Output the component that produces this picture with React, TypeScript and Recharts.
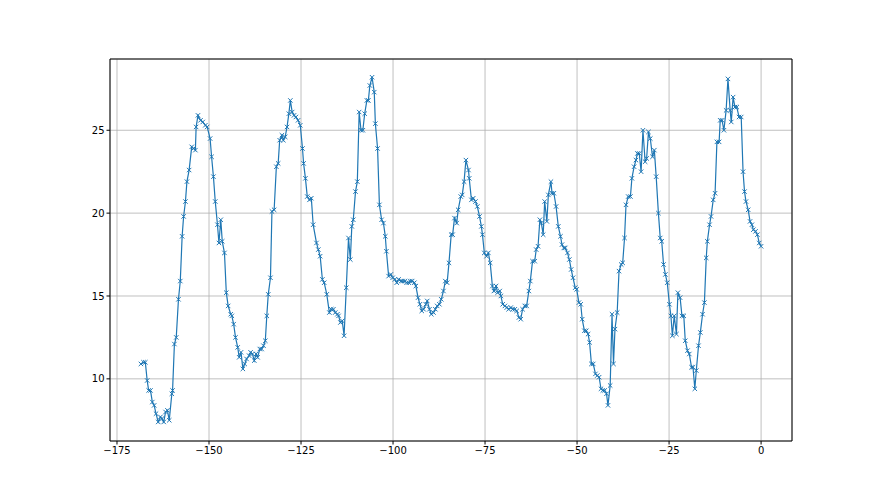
import React from "react";
import {
  LineChart,
  Line,
  XAxis,
  YAxis,
  CartesianGrid,
  ReferenceLine,
} from "recharts";

// time offsets (hours)
const hours = [
  -168.5, -167.8, -167.3, -166.8, -166.4, -165.9, -165.4, -164.9, -164.4, -163.8,
  -163.2, -162.8, -162.3, -161.8, -161.3, -160.8, -160.1, -159.9, -159.4, -158.9,
  -158.3, -157.8, -157.3, -156.9, -156.4, -156.0, -155.4, -154.7, -154.2, -153.7,
  -153.5, -153.0, -152.3, -151.7, -151.0, -150.5, -149.7, -149.3, -148.8, -148.3,
  -147.7, -147.3, -146.8, -146.4, -145.8, -145.3, -144.8, -144.1, -143.8, -143.3,
  -142.8, -142.2, -141.8, -141.3, -140.8, -140.3, -139.8, -139.1, -138.7, -138.2,
  -137.7, -137.2, -136.8, -136.2, -135.7, -135.2, -134.7, -134.3, -133.9, -133.3,
  -132.9, -132.3, -131.7, -131.2, -130.8, -130.2, -129.8, -129.3, -128.8, -128.3,
  -127.9, -127.4, -126.9, -126.4, -125.8, -125.2, -124.6, -124.3, -123.8, -123.3,
  -122.7, -122.2, -121.7, -120.8, -120.3, -119.8, -119.2, -118.7, -118.0, -117.3,
  -116.8, -116.2, -115.7, -115.1, -114.8, -114.3, -113.8, -113.3, -112.7, -112.1,
  -111.6, -111.2, -110.8, -110.2, -109.7, -109.2, -108.7, -108.2, -107.7, -107.1,
  -106.7, -106.3, -105.7, -105.1, -104.8, -104.2, -103.7, -103.1, -102.6, -102.1,
  -101.8, -101.2, -100.6, -100.1, -99.5, -99.0, -98.5, -97.8, -97.4, -96.8,
  -96.3, -95.7, -95.3, -94.8, -94.2, -93.8, -93.2, -92.7, -92.2, -91.7,
  -91.1, -90.7, -90.1, -89.6, -89.0, -88.5, -88.0, -87.4, -86.9, -86.3,
  -85.8, -85.3, -84.8, -84.2, -83.8, -83.3, -82.7, -82.3, -81.6, -81.2,
  -80.7, -80.2, -79.5, -79.3, -78.7, -78.2, -77.6, -77.1, -76.5, -76.0,
  -75.7, -75.2, -74.6, -74.1, -73.6, -73.0, -72.6, -72.0, -71.6, -71.0,
  -70.7, -70.2, -69.6, -69.1, -68.6, -68.0, -67.5, -66.9, -66.4, -65.8,
  -65.3, -64.8, -64.2, -63.7, -63.1, -62.7, -62.1, -61.5, -61.1, -60.6,
  -60.1, -59.7, -59.2, -58.8, -58.2, -57.8, -57.1, -56.8, -56.3, -55.7,
  -55.1, -54.5, -54.1, -53.6, -53.2, -52.6, -52.1, -51.6, -51.1, -50.5,
  -50.1, -49.5, -49.0, -48.6, -48.0, -47.5, -47.0, -46.6, -46.1, -45.6,
  -45.0, -44.5, -44.0, -43.5, -43.0, -42.5, -42.0, -41.6, -41.0, -40.5,
  -40.1, -39.7, -39.1, -38.6, -38.0, -37.6, -37.1, -36.7, -36.1, -35.5,
  -35.1, -34.5, -34.0, -33.6, -33.1, -32.6, -32.1, -31.5, -31.1, -30.6,
  -30.1, -29.5, -29.0, -28.5, -27.9, -27.4, -27.0, -26.5, -26.0, -25.5,
  -24.9, -24.5, -24.1, -23.6, -23.0, -22.6, -22.0, -21.5, -21.0, -20.6,
  -20.0, -19.5, -18.9, -18.5, -18.0, -17.6, -17.0, -16.5, -15.9, -15.4,
  -14.9, -14.6, -14.0, -13.6, -13.0, -12.5, -12.0, -11.4, -11.1, -10.6,
  -10.1, -9.5, -9.0, -8.4, -8.1, -7.6, -7.1, -6.6, -6.0, -5.4,
  -4.9, -4.5, -4.1, -3.5, -3.0, -2.5, -2.1, -1.5, -1.0, -0.5,
  0.0,
];

const temps = [
  10.9, 11.0, 11.0, 9.9, 9.3, 9.3, 8.6, 8.4, 7.9, 7.4,
  7.7, 7.6, 7.4, 8.0, 8.1, 7.5, 9.1, 9.3, 12.1, 12.5,
  14.8, 15.9, 18.6, 19.8, 20.7, 21.9, 22.6, 24.0, 23.9, 23.8,
  25.2, 25.9, 25.6, 25.5, 25.3, 25.2, 24.5, 23.4, 22.2, 20.7,
  19.3, 18.2, 19.6, 18.3, 17.6, 15.2, 14.4, 13.9, 13.8, 13.3,
  12.5, 11.9, 11.3, 11.6, 10.6, 10.9, 11.2, 11.4, 11.6, 11.5,
  11.1, 11.5, 11.3, 11.8, 11.8, 12.0, 12.3, 13.8, 15.1, 16.1,
  20.1, 20.2, 22.8, 23.0, 24.4, 24.7, 24.4, 24.6, 25.2, 26.0,
  26.8, 26.1, 25.9, 25.8, 25.6, 25.3, 23.9, 23.0, 22.1, 21.0,
  20.8, 20.9, 19.3, 18.2, 17.8, 17.4, 16.0, 15.8, 15.1, 14.0,
  14.2, 14.2, 14.0, 13.9, 13.8, 13.4, 13.5, 12.6, 15.5, 18.5,
  17.2, 19.2, 19.6, 21.3, 21.9, 26.1, 25.0, 25.0, 26.0, 26.8,
  26.8, 27.7, 28.2, 27.3, 25.4, 23.9, 20.5, 19.6, 19.4, 18.6,
  17.7, 16.2, 16.3, 16.1, 16.0, 15.8, 16.0, 15.9, 15.9, 15.9,
  15.8, 15.8, 15.9, 15.9, 15.8, 15.6, 14.9, 14.5, 14.1, 14.2,
  14.5, 14.7, 14.2, 13.9, 14.0, 14.2, 14.4, 14.5, 14.8, 15.3,
  15.9, 15.8, 17.0, 18.7, 18.7, 19.7, 19.4, 20.2, 21.0, 21.1,
  21.9, 23.2, 22.6, 22.1, 20.8, 20.9, 20.7, 20.4, 19.8, 19.2,
  18.7, 17.6, 17.4, 17.6, 17.0, 15.6, 15.3, 15.6, 15.2, 15.3,
  15.0, 14.5, 14.4, 14.3, 14.2, 14.3, 14.2, 14.2, 14.1, 13.7,
  13.6, 14.2, 14.4, 14.4, 15.3, 15.9, 17.1, 17.1, 17.8, 18.0,
  19.6, 19.4, 18.7, 20.7, 19.5, 21.1, 21.9, 21.2, 21.2, 20.4,
  19.2, 18.6, 18.1, 17.9, 17.9, 17.6, 17.2, 16.6, 16.1, 15.5,
  15.4, 14.6, 14.5, 13.6, 12.9, 12.9, 12.7, 12.2, 10.9, 10.9,
  10.3, 10.2, 10.1, 9.4, 9.3, 9.3, 9.1, 8.4, 9.6, 13.9,
  10.9, 13.0, 14.0, 16.5, 16.9, 17.0, 18.5, 20.5, 21.0, 21.0,
  22.1, 22.8, 23.2, 23.6, 23.6, 22.5, 25.0, 23.1, 23.3, 24.9,
  24.5, 23.4, 23.8, 22.2, 20.0, 18.5, 18.3, 16.9, 16.3, 15.8,
  14.5, 13.8, 12.6, 13.8, 12.7, 15.2, 14.9, 13.8, 13.8, 12.3,
  11.7, 11.5, 10.7, 10.7, 9.4, 10.5, 12.0, 12.8, 13.9, 14.6,
  17.3, 18.3, 19.3, 19.8, 20.8, 21.2, 24.3, 24.3, 25.6, 25.6,
  25.0, 26.2, 28.1, 26.2, 25.5, 27.0, 26.4, 26.4, 25.8, 25.8,
  22.5, 21.3, 20.7, 20.2, 19.5, 19.3, 19.0, 18.9, 18.7, 18.2,
  18.0,
];

const xTicks = [-175, -150, -125, -100, -75, -50, -25, 0];
const yTicks = [10, 15, 20, 25];

const data = hours.map((h, i) => ({ t: h, v: temps[i] }));

const blue = "#1f77b4";
const fmt = (v: number) => (v < 0 ? "\u2212" + Math.abs(v) : String(v));
const tickStyle = { fill: "#000", fontSize: 10, fontFamily: "DejaVu Sans" };

// matplotlib-style "x" marker
const XMarker = (props: any) => {
  const { cx, cy, index } = props;
  if (cx == null || cy == null) return <g key={index} />;
  const s = 2.2;
  return (
    <path
      key={index}
      d={`M${cx - s},${cy - s}L${cx + s},${cy + s}M${cx - s},${cy + s}L${cx + s},${cy - s}`}
      stroke={blue}
      strokeWidth={1}
      fill="none"
    />
  );
};

export default function App() {
  return (
    <div style={{ position: "absolute", left: 0, top: 0, background: "#fff" }}>
      <LineChart
        width={880}
        height={495}
        data={data}
        margin={{ top: 59, right: 88, bottom: 24, left: 70 }}
      >
        <CartesianGrid stroke="#b0b0b0" strokeWidth={0.8} />
        <XAxis
          dataKey="t"
          type="number"
          domain={[-176.9, 8.4]}
          ticks={xTicks}
          tickFormatter={fmt}
          allowDataOverflow
          height={30}
          tickSize={3.5}
          tickMargin={2}
          stroke="#000"
          tick={tickStyle}
        />
        <YAxis
          type="number"
          domain={[6.25, 29.3]}
          ticks={yTicks}
          allowDataOverflow
          width={40}
          tickSize={3.5}
          tickMargin={2}
          stroke="#000"
          tick={tickStyle}
        />
        <ReferenceLine x={8.4} stroke="#000" strokeWidth={1} />
        <ReferenceLine y={29.3} stroke="#000" strokeWidth={1} />
        <Line
          type="linear"
          dataKey="v"
          stroke={blue}
          strokeWidth={1.2}
          dot={XMarker}
          activeDot={false}
          isAnimationActive={false}
        />
      </LineChart>
    </div>
  );
}
